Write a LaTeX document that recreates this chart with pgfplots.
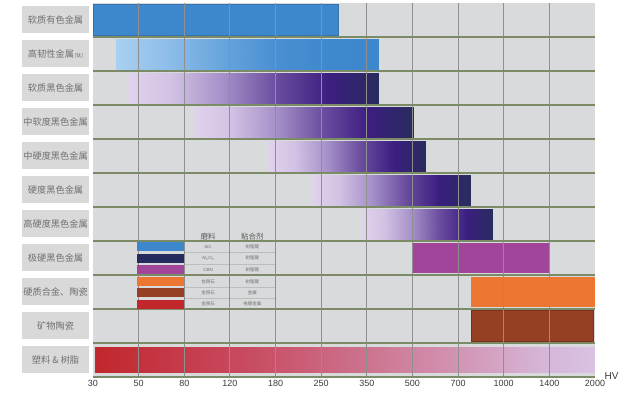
\documentclass[border=0pt]{standalone}
\usepackage{pgfplots}
\pgfplotsset{compat=1.18}
\usepackage{fontspec}
\setmainfont{Liberation Sans}
\newfontfamily\cjk{Noto Sans CJK SC}
\definecolor{bg}{HTML}{D9DADB}
\definecolor{gline}{HTML}{7B8B66}
\definecolor{vgrid}{HTML}{8F8F8F}
\definecolor{blue1}{HTML}{3D87CC}
\definecolor{mag}{HTML}{A1459B}
\definecolor{orng}{HTML}{EC7733}
\definecolor{brwn}{HTML}{963F23}
\definecolor{red1}{HTML}{C1272D}
\definecolor{navy}{HTML}{252B5C}
\definecolor{lbox}{HTML}{D9D9D9}
\definecolor{ltext}{HTML}{707070}
\definecolor{ticktext}{HTML}{3A3A3A}
\definecolor{sepl}{HTML}{BDBDBD}
\pgfplotsset{
  colormap={purp}{rgb255(0cm)=(224,211,236); rgb255(17cm)=(210,194,228); rgb255(38cm)=(165,144,200); rgb255(59cm)=(106,77,159); rgb255(80cm)=(60,30,128); rgb255(100cm)=(40,44,94)},
  colormap={bl}{rgb255(0cm)=(169,208,241); rgb255(20cm)=(141,189,233); rgb255(40cm)=(104,165,221); rgb255(60cm)=(74,144,210); rgb255(80cm)=(63,136,205); rgb255(100cm)=(61,135,204)},
  colormap={rd}{rgb255(0cm)=(193,39,45); rgb255(30cm)=(200,74,96); rgb255(50cm)=(203,108,134); rgb255(70cm)=(209,143,174); rgb255(90cm)=(214,182,216); rgb255(100cm)=(216,194,226)},
  gbar/.style={surf, shader=interp, colormap name=#1, point meta=explicit, point meta rel=per plot, mesh/rows=2},
}
\tikzset{
  labbox/.style={fill=lbox, minimum width=67pt, minimum height=27pt, inner sep=0pt, text=ltext, font=\cjk\fontsize{9.2}{10}\selectfont},
  tinytxt/.style={text=ltext, font=\cjk\fontsize{4.5}{5}\selectfont, inner sep=0pt},
}
\begin{document}
\begin{tikzpicture}
\begin{axis}[
  at={(0pt,0pt)}, anchor=south west,
  scale only axis, width=502pt, height=374pt,
  xmin=0, xmax=11, ymin=0.5, ymax=11.5,
  clip=false,
  set layers, axis on top,
  axis background/.style={fill=bg},
  axis line style={draw=none},
  xtick={0,...,11},
  xticklabels={30,50,80,120,180,250,350,500,700,1000,1400,2000},
  minor xtick={1,...,10},
  ytick={0.5,1.5,...,10.5},
  yticklabels={},
  major tick length=0pt, minor tick length=0pt,
  xmajorgrids=false, xminorgrids=true, ymajorgrids=true,
  major grid style={draw=gline, line width=1.6pt},
  minor grid style={draw=vgrid, line width=0.9pt},
  tick label style={font=\fontsize{9}{10}\selectfont, text=ticktext},
  /pgf/number format/assume math mode=true,
]
% bars
\addplot[fill=blue1, draw=blue1!85!black, line width=0.5pt] coordinates {(0,10.55) (5.38,10.55) (5.38,11.45) (0,11.45)} -- cycle;
\addplot[gbar=bl] coordinates {(0.5,9.55) [0] (6.26,9.55) [1] (0.5,10.45) [0] (6.26,10.45) [1]};
\addplot[gbar=purp] coordinates {(0.77,8.55) [0] (6.26,8.55) [1] (0.77,9.45) [0] (6.26,9.45) [1]};
\addplot[gbar=purp] coordinates {(2.20,7.55) [0] (7.02,7.55) [1] (2.20,8.45) [0] (7.02,8.45) [1]};
\addplot[gbar=purp] coordinates {(3.83,6.55) [0] (7.28,6.55) [1] (3.83,7.45) [0] (7.28,7.45) [1]};
\addplot[gbar=purp] coordinates {(4.80,5.55) [0] (8.27,5.55) [1] (4.80,6.45) [0] (8.27,6.45) [1]};
\addplot[gbar=purp] coordinates {(5.90,4.55) [0] (8.76,4.55) [1] (5.90,5.45) [0] (8.76,5.45) [1]};
\addplot[fill=mag, draw=none] coordinates {(7.02,3.55) (10.02,3.55) (10.02,4.45) (7.02,4.45)} -- cycle;
\addplot[fill=orng, draw=none] coordinates {(8.28,2.55) (11,2.55) (11,3.45) (8.28,3.45)} -- cycle;
\addplot[fill=brwn, draw=brwn!80!black, line width=0.5pt] coordinates {(8.28,1.55) (10.96,1.55) (10.96,2.45) (8.28,2.45)} -- cycle;
\addplot[gbar=rd] coordinates {(0.04,0.63) [0] (10.98,0.63) [1] (0.04,1.37) [0] (10.98,1.37) [1]};
% legend swatches
\addplot[on layer=axis foreground, fill=blue1, draw=none] coordinates {(0.96,4.20) (2,4.20) (2,4.47) (0.96,4.47)} -- cycle;
\addplot[on layer=axis foreground, fill=navy, draw=none] coordinates {(0.96,3.86) (2,3.86) (2,4.13) (0.96,4.13)} -- cycle;
\addplot[on layer=axis foreground, fill=mag, draw=none] coordinates {(0.96,3.53) (2,3.53) (2,3.79) (0.96,3.79)} -- cycle;
\addplot[on layer=axis foreground, fill=orng, draw=none] coordinates {(0.96,3.17) (2,3.17) (2,3.45) (0.96,3.45)} -- cycle;
\addplot[on layer=axis foreground, fill=brwn, draw=none] coordinates {(0.96,2.84) (2,2.84) (2,3.11) (0.96,3.11)} -- cycle;
\addplot[on layer=axis foreground, fill=red1, draw=none] coordinates {(0.96,2.51) (2,2.51) (2,2.77) (0.96,2.77)} -- cycle;
% legend separators
\addplot[sepl, line width=0.6pt] coordinates {(2,4.165) (4,4.165)};
\addplot[sepl, line width=0.6pt] coordinates {(2,3.825) (4,3.825)};
\addplot[sepl, line width=0.6pt] coordinates {(2,3.14) (4,3.14)};
\addplot[sepl, line width=0.6pt] coordinates {(2,2.805) (4,2.805)};
% legend text
\node[text=ltext!80!black, font=\cjk\fontsize{7.5}{8}\selectfont] at (axis cs:2.52,4.63) {磨料};
\node[text=ltext!80!black, font=\cjk\fontsize{7.5}{8}\selectfont] at (axis cs:3.49,4.63) {粘合剂};
\node[tinytxt, font=\fontsize{4.5}{5}\selectfont] at (axis cs:2.52,4.335) {SiC};
\node[tinytxt, font=\fontsize{4.5}{5}\selectfont] at (axis cs:2.52,3.995) {Al\textsubscript{2}O\textsubscript{3}};
\node[tinytxt, font=\fontsize{4.5}{5}\selectfont] at (axis cs:2.52,3.66) {CBN};
\node[tinytxt] at (axis cs:2.52,3.31) {金刚石};
\node[tinytxt] at (axis cs:2.52,2.975) {金刚石};
\node[tinytxt] at (axis cs:2.52,2.64) {金刚石};
\node[tinytxt] at (axis cs:3.49,4.335) {树脂键};
\node[tinytxt] at (axis cs:3.49,3.995) {树脂键};
\node[tinytxt] at (axis cs:3.49,3.66) {树脂键};
\node[tinytxt] at (axis cs:3.49,3.31) {树脂键};
\node[tinytxt] at (axis cs:3.49,2.975) {金属};
\node[tinytxt] at (axis cs:3.49,2.64) {电镀金属};
% row labels
\node[labbox] at (axis cs:-0.82,11) {软质有色金属};
\node[labbox] at (axis cs:-0.82,10) {高韧性金属{\fontsize{5}{6}\selectfont\,[钛]}};
\node[labbox] at (axis cs:-0.82,9) {软质黑色金属};
\node[labbox] at (axis cs:-0.82,8) {中软度黑色金属};
\node[labbox] at (axis cs:-0.82,7) {中硬度黑色金属};
\node[labbox] at (axis cs:-0.82,6) {硬度黑色金属};
\node[labbox] at (axis cs:-0.82,5) {高硬度黑色金属};
\node[labbox] at (axis cs:-0.82,4) {极硬黑色金属};
\node[labbox] at (axis cs:-0.82,3) {硬质合金、陶瓷};
\node[labbox] at (axis cs:-0.82,2) {矿物陶瓷};
\node[labbox] at (axis cs:-0.82,1) {塑料 \& 树脂};
\node[anchor=west, text=ticktext, font=\fontsize{10}{11}\selectfont] at (axis cs:11,0.5) [xshift=6pt, yshift=1pt] {HV};
\end{axis}
\path (-93pt,-19pt) rectangle (547pt,377pt);
\end{tikzpicture}
\end{document}
